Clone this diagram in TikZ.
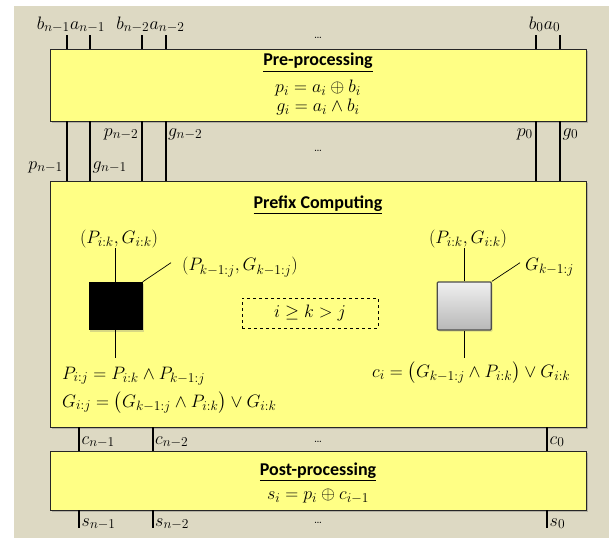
\RequirePackage{fix-cm}
\documentclass[tikz,border=0pt]{standalone}
\usepackage{amsmath,amssymb}
\usepackage{fontspec}
\newfontfamily\headfont{Carlito}
\usetikzlibrary{shadows}
\definecolor{paper}{HTML}{DDD9C3}
\definecolor{blockyellow}{HTML}{FFFF85}
\DeclareMathSizes{18}{18}{13.5}{10.5}
\newcommand{\mathsz}{\fontsize{18}{21}\selectfont}

\begin{document}
\begin{tikzpicture}[x=1pt,y=-1pt,
  blockbox/.style={draw=black!85,fill=blockyellow,line width=1pt,inner sep=0pt,outer sep=0pt,
    drop shadow={shadow xshift=1.5pt,shadow yshift=-1.5pt,opacity=0.35,fill=black!60}},
  bus/.style={line width=1.6pt},
  thinwire/.style={line width=0.7pt},
  lbl/.style={inner sep=0pt,font=\mathsz},
  blocktitle/.style={inner sep=0pt,font=\headfont\bfseries\fontsize{18}{21}\selectfont},
  dotsnode/.style={inner sep=0pt,font=\fontsize{13}{15}\selectfont}]
  % Page and background.
  \useasboundingbox (0,0) rectangle (609,538);
  \fill[paper] (14,6) rectangle (609,538);

  % The three stages.
  \node[blockbox,minimum width=535.3pt,minimum height=72pt] (pre) at (318.35,85) {};
  \node[blockbox,minimum width=535.3pt,minimum height=246pt] (prefix) at (318.35,304) {};
  \node[blockbox,minimum width=535.3pt,minimum height=59pt] (post) at (318.35,480.5) {};

  \node[blocktitle] (pretitle) at (318,63) {\underline{Pre-processing}};
  \node[lbl] (preP) at (318,88) {$p_i = a_i \oplus b_i$};
  \node[lbl] (preG) at (318,107) {$g_i = a_i \wedge b_i$};
  \node[blocktitle] (prefixtitle) at (318,205) {\underline{Prefix Computing}};
  \node[blocktitle] (posttitle) at (318,472) {\underline{Post-processing}};
  \node[lbl] (postS) at (318,496) {$s_i = p_i \oplus c_{i-1}$};

  % Input and propagate/generate wires.
  \coordinate (tb1) at (66.7,35);
  \coordinate (ta1) at (90,35);
  \coordinate (tb2) at (142,35);
  \coordinate (ta2) at (165.7,35);
  \coordinate (tb0) at (536,35);
  \coordinate (ta0) at (560,35);
  \foreach \w in {tb1,ta1,tb2,ta2,tb0,ta0} {
    \draw[bus] (\w) -- (\w |- pre.north);
    \draw[bus] (\w |- pre.south) -- (\w |- prefix.north);
  }

  % Carry and sum wires.
  \coordinate (cw1) at (79,528);
  \coordinate (cw2) at (152.7,528);
  \coordinate (cw0) at (547,528);
  \foreach \w in {cw1,cw2,cw0} {
    \draw[bus] (\w |- prefix.south) -- (\w |- post.north);
    \draw[bus] (\w |- post.south) -- (\w);
  }

  % Wire labels.
  \node[lbl,anchor=base east] (lb1) at (70,29) {$b_{n-1}$};
  \node[lbl,anchor=base west] (la1) at (70,29) {$a_{n-1}$};
  \node[lbl,anchor=base east] (lb2) at (149.5,29) {$b_{n-2}$};
  \node[lbl,anchor=base west] (la2) at (149.5,29) {$a_{n-2}$};
  \node[lbl,anchor=base east] (lb0) at (543.7,29) {$b_0$};
  \node[lbl,anchor=base west] (la0) at (543.7,29) {$a_0$};
  \node[dotsnode] (topdots) at (318,38) {\ldots};

  \node[lbl,anchor=base east] (lp2) at (138.5,136) {$p_{n-2}$};
  \node[lbl,anchor=base west] (lg2) at (168,136) {$g_{n-2}$};
  \node[lbl,anchor=base east] (lp1) at (63,169) {$p_{n-1}$};
  \node[lbl,anchor=base west] (lg1) at (92.5,169) {$g_{n-1}$};
  \node[lbl,anchor=base east] (lp0) at (533,136) {$p_0$};
  \node[lbl,anchor=base west] (lg0) at (562.5,136) {$g_0$};
  \node[dotsnode] (middots) at (318,151) {\ldots};

  \node[lbl,anchor=base west] (lc1) at (81.5,444) {$c_{n-1}$};
  \node[lbl,anchor=base west] (lc2) at (155,444) {$c_{n-2}$};
  \node[lbl,anchor=base west] (lc0) at (549.5,444) {$c_0$};
  \node[dotsnode] (cdots) at (318,442) {\ldots};
  \node[lbl,anchor=base west] (ls1) at (81.5,526) {$s_{n-1}$};
  \node[lbl,anchor=base west] (ls2) at (155,526) {$s_{n-2}$};
  \node[lbl,anchor=base west] (ls0) at (549.5,526) {$s_0$};
  \node[dotsnode] (sdots) at (318,523) {\ldots};

  % Black cell: group propagate and generate.
  \node[fill=black,minimum width=54pt,minimum height=48pt,inner sep=0pt,
    drop shadow={shadow xshift=1.5pt,shadow yshift=-1.5pt,opacity=0.3}] (blk) at (115.5,306) {};
  \node[lbl] (pgl) at (119,239) {$(P_{i:k},G_{i:k})$};
  \node[lbl,anchor=west] (pkl) at (182,267) {$(P_{k-1:j},G_{k-1:j})$};
  \coordinate (pkltip) at (171,262.7);
  \coordinate (blkout) at (115.5,358);
  \draw[thinwire] (blk.north) -- (blk.north |- pgl.south);
  \draw[thinwire] (blk.north east) -- (pkltip);
  \draw[thinwire] (blk.south) -- (blkout);
  \node[lbl,anchor=base west] (eqP) at (62,379) {$P_{i:j} = P_{i:k} \wedge P_{k-1:j}$};
  \node[lbl,anchor=base west] (eqG) at (62,407)
    {$G_{i:j} = \bigl(G_{k-1:j} \wedge P_{i:k}\bigr) \vee G_{i:k}$};

  % Index condition.
  \node[lbl,draw,dashed,line width=0.6pt,minimum width=136pt,minimum height=30pt] (cond)
    at (310,313) {$i \geq k > j$};

  % Gray cell: carry out.
  \node[draw=black!70,line width=1.2pt,rounded corners=1pt,top color=black!6,bottom color=black!28,
    minimum width=54pt,minimum height=48pt,inner sep=0pt,
    drop shadow={shadow xshift=1.5pt,shadow yshift=-1.5pt,opacity=0.3}] (gry) at (464.2,306) {};
  \node[lbl] (pgr) at (468,239) {$(P_{i:k},G_{i:k})$};
  \node[lbl,anchor=west] (gkr) at (525,267) {$G_{k-1:j}$};
  \coordinate (gkrtip) at (520,262.7);
  \coordinate (gryout) at (464.2,358);
  \draw[thinwire] (gry.north) -- (gry.north |- pgr.south);
  \draw[thinwire] (gry.north east) -- (gkrtip);
  \draw[thinwire] (gry.south) -- (gryout);
  \node[lbl,anchor=base west] (eqc) at (372,377)
    {$c_i = \bigl(G_{k-1:j} \wedge P_{i:k}\bigr) \vee G_{i:k}$};
\end{tikzpicture}
\end{document}
